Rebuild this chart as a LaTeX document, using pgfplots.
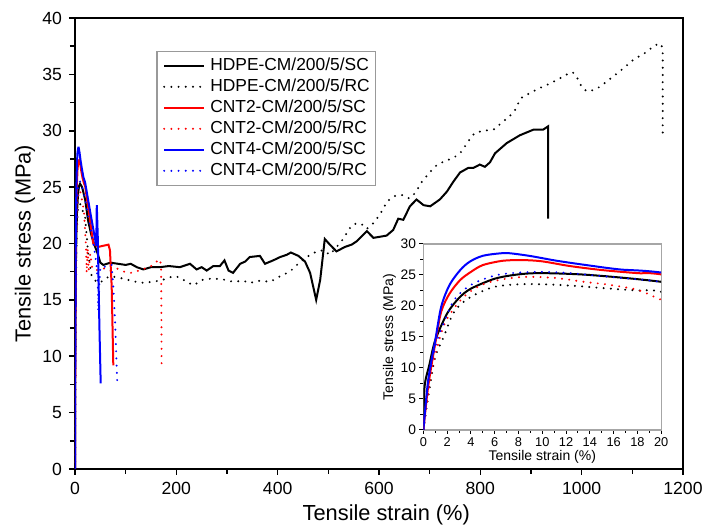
\documentclass[border=0pt]{standalone}
\usepackage{fontspec}
\setmainfont{Liberation Sans}
\usepackage{pgfplots}
\pgfplotsset{compat=1.18}
\usepackage{pgfplotstable}

% HDPE-CM/200/5/SC
\pgfplotstableread{
x y
0 0
0.1 7
0.5 10.5
1 14.5
2 18.8
3 21.3
4 22.8
6 24.4
8 25.1
10 25.3
14 25.0
20 23.9
26 22.0
32 20.8
38 19.9
44 19.2
50 18.3
56 18.1
70 18.3
85 18.2
100 18.1
110 18.2
122 17.9
135 17.7
150 17.9
168 17.9
185 18.0
207 17.9
227 18.2
240 17.7
250 17.9
260 17.6
273 18.0
286 18.0
295 18.5
303 17.6
312 17.4
326 18.2
336 18.4
345 18.8
365 18.9
375 18.2
391 18.5
405 18.8
418 19.0
426 19.2
441 18.9
454 18.4
464 17.4
470 16.2
476 15.0
484 16.8
493 20.4
503 19.9
516 19.3
533 19.7
546 19.9
556 20.2
576 21.1
589 20.5
615 20.7
628 21.2
638 22.2
648 22.1
661 23.3
674 23.9
688 23.4
701 23.3
720 23.9
734 24.6
747 25.5
760 26.3
776 26.7
786 26.7
799 27.0
809 26.8
819 27.2
829 28.0
852 28.9
878 29.6
905 30.1
924 30.1
934 30.4
934 22.2
}\hdpesc

% HDPE-CM/200/5/RC
\pgfplotstableread{
x y
0 0
0.5 6.5
1 11.8
1.7 15.0
2.5 18.8
3.4 20.7
4.5 22.0
6 23.1
8 23.5
10 23.5
12.3 23.3
15 22.9
18 22.5
20 22.3
26 19.1
33 17.1
40 16.7
49 16.5
60 16.9
69 17.1
85 17.0
102 16.8
120 16.6
138 16.5
150 16.6
168 16.7
194 17.1
207 17.0
220 16.6
234 16.3
253 16.8
273 16.9
293 16.8
313 16.6
332 16.7
345 16.5
365 16.7
385 16.6
405 17.1
424 17.5
438 18.1
457 18.8
477 19.3
490 19.4
503 19.0
526 20.2
546 21.6
556 21.8
566 21.7
576 21.3
589 21.8
599 22.4
609 23.1
615 23.7
630 24.2
645 24.3
660 24.0
672 24.5
685 25.5
700 26.3
715 27.0
730 27.3
747 27.6
760 28.0
780 29.3
789 29.8
806 30.0
826 30.1
842 30.7
858 31.3
868 31.8
880 32.9
900 33.4
918 33.8
938 34.2
957 34.65
971 35.0
982 35.2
990 34.8
1000 33.9
1010 33.5
1023 33.6
1036 33.9
1056 34.6
1076 35.3
1102 36.3
1125 36.9
1145 37.6
1157 37.7
1160 37.0
1160 29.4
}\hdperc

% CNT2-CM/200/5/SC
\pgfplotstableread{
x y
0 0
0.4 7.0
1 14.0
1.5 19.1
2.2 22.0
3.1 24.2
4 25.5
5 26.6
6.7 27.3
8.4 27.4
10 27.2
12.3 26.45
15 25.8
18 25.3
20 25.1
28 22.6
36 20.0
46 19.7
56 19.8
66 19.9
69 19.4
72.4 16.2
75.6 9.2
}\cnttwosc

% CNT2-CM/200/5/RC
\pgfplotstableread{
x y
0 0
0.6 8.6
1.1 12.9
1.8 17.2
2.8 20.2
3.9 22.3
5.3 23.7
7.3 24.5
9 24.7
11.2 24.5
13.5 23.9
15.7 23.4
18 22.6
20 21.0
22 19.5
23 17.4
25 19.6
27 17.6
30 19.1
34 17.8
40 17.6
56 17.8
70 17.6
82 17.8
102 17.4
115 17.4
128 17.65
148 17.9
158 18.3
164 18.5
168 18.6
170 17.8
171 8.9
}\cnttworc

% CNT4-CM/200/5/SC
\pgfplotstableread{
x y
0 0
0.4 8.0
1 14.5
1.5 19.9
2.2 23.4
3.1 25.8
3.9 27.15
5 28.1
6.5 28.5
7.3 28.5
9 28.06
11.2 27.3
13.7 26.6
16.5 25.9
20 25.4
30 22.8
40 20.3
42 19.8
43 23.4
45 20.5
46 17.9
48 13.0
50.7 7.6
}\cntfoursc

% CNT4-CM/200/5/RC
\pgfplotstableread{
x y
0 0
0.4 7.5
1 13.4
1.7 17.2
2.5 20.7
3.4 22.6
4.5 23.9
6.2 25.0
8.1 25.4
10.1 25.5
12.3 25.3
15.1 24.8
18 24.3
20 23.9
30 21.5
39.5 19.1
42.8 17.9
45 16.5
46 14.0
47 15.5
50 17.9
56 17.9
65 18.0
72.4 18.1
75.6 16.2
79 13.2
83.5 7.45
}\cntfourrc

\pgfplotsset{
  sc/.style={line width=1pt},
  rc/.style={line width=1.1pt, line cap=round, dash pattern=on 0pt off 3.6pt},
}

\begin{document}
\begin{tikzpicture}
\begin{axis}[
  name=main,
  scale only axis,
  width=304pt, height=225.5pt,
  xmin=0, xmax=1200, ymin=0, ymax=40,
  xtick={0,200,...,1200}, ytick={0,5,...,40},
  minor x tick num=1, minor y tick num=1,
  xtick pos=left, ytick pos=left,
  tick align=outside,
  major tick length=3pt, minor tick length=2.5pt,
  tick style={black, line width=0.8pt},
  axis line style={line width=1.1pt},
  /pgf/number format/assume math mode=true,
  /pgf/number format/1000 sep={},
  ticklabel style={font=\fontsize{8.8}{10}\selectfont},
  label style={font=\fontsize{10.9}{12}\selectfont},
  xlabel={Tensile strain (\%)},
  ylabel={Tensile stress (MPa)},
  xlabel style={at={(axis description cs:0.512,-0.102)}, anchor=center},
  ylabel style={at={(axis description cs:-0.0822,0.5)}, anchor=center},
  legend image code/.code={\draw[#1] (0pt,0pt) -- (20pt,0pt);},
  legend style={at={(0.134,0.9275)}, anchor=north west,
    draw=gray!80, line width=0.6pt,
    inner xsep=3pt, inner ysep=3pt,
    font=\fontsize{8.7}{10}\selectfont,
    nodes={inner sep=0pt, text height=6.5pt, text depth=2pt},
    row sep=2pt, column sep=2.5pt},
  legend cell align=left,
]
\addplot[sc, black] table {\hdpesc};
\addplot[rc, black] table {\hdperc};
\addplot[sc, red] table {\cnttwosc};
\addplot[rc, red] table {\cnttworc};
\addplot[sc, blue] table {\cntfoursc};
\addplot[rc, blue] table {\cntfourrc};
\legend{HDPE-CM/200/5/SC, HDPE-CM/200/5/RC, CNT2-CM/200/5/SC,
        CNT2-CM/200/5/RC, CNT4-CM/200/5/SC, CNT4-CM/200/5/RC}
\end{axis}

\begin{axis}[
  at={(main.south west)}, anchor=south west,
  xshift=174.2pt, yshift=19.5pt,
  scale only axis,
  width=118.9pt, height=93pt,
  xmin=0, xmax=20, ymin=0, ymax=30,
  xtick={0,2,...,20}, ytick={0,5,...,30},
  minor x tick num=1, minor y tick num=1,
  xtick pos=left, ytick pos=left,
  tick align=outside,
  major tick length=2pt, minor tick length=1.5pt,
  tick style={black, line width=0.5pt},
  axis line style={gray!70, line width=0.7pt},
  axis background/.style={fill=white},
  /pgf/number format/assume math mode=true,
  xticklabel style={font=\fontsize{6.4}{7}\selectfont, inner sep=1.5pt},
  yticklabel style={font=\fontsize{6.9}{8}\selectfont, inner sep=1.5pt},
  label style={font=\fontsize{7}{8}\selectfont},
  xlabel={Tensile strain (\%)},
  ylabel={Tensile stress (MPa)},
  xlabel style={at={(axis description cs:0.5,-0.145)}, anchor=center},
  ylabel style={at={(axis description cs:-0.143,0.5)}, anchor=center},
]
\addplot[sc, black, smooth] table {\hdpesc};
\addplot[rc, black, smooth] table {\hdperc};
\addplot[sc, red, smooth] table {\cnttwosc};
\addplot[rc, red, smooth] table {\cnttworc};
\addplot[sc, blue, smooth] table {\cntfoursc};
\addplot[rc, blue, smooth] table {\cntfourrc};
\end{axis}

\pgfresetboundingbox
\path[use as bounding box] (main.south west) ++(-37.5pt,-30pt) rectangle ++(351pt,264.5pt);
\end{tikzpicture}
\end{document}
